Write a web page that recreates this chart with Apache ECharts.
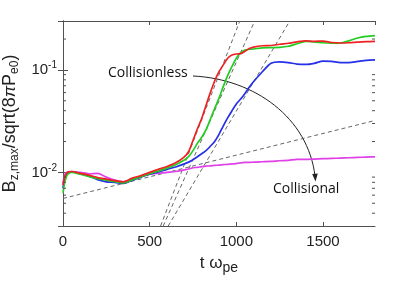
<!DOCTYPE html>
<html>
<head>
<meta charset="utf-8">
<script src="https://cdn.jsdelivr.net/npm/echarts@6/dist/echarts.min.js"></script>
<style>
html,body{margin:0;padding:0;background:#fff;}
#chart{width:415px;height:281px;}
</style>
</head>
<body>
<div id="chart"></div>
<script>
// time samples (t * omega_pe)
const T = [0, 10, 25, 50, 100, 150, 200, 250, 300, 350, 400, 450, 500, 550, 600, 650, 700, 725, 750, 775, 800, 825, 850, 875, 900, 925, 950, 975, 1000, 1025, 1050, 1075, 1100, 1150, 1200, 1250, 1300, 1350, 1400, 1450, 1500, 1550, 1600, 1650, 1700, 1750, 1800];

const redVals = [0.0075, 0.0090, 0.0100, 0.0102, 0.0098, 0.0094, 0.0089, 0.0086, 0.0083, 0.0081, 0.0088, 0.0093, 0.0100, 0.0107, 0.0114, 0.0124, 0.0142, 0.0160, 0.0205, 0.0265, 0.0335, 0.0450, 0.0600, 0.0780, 0.0960, 0.1120, 0.1300, 0.1400, 0.1430, 0.1440, 0.1520, 0.1620, 0.1670, 0.1720, 0.1730, 0.1780, 0.1820, 0.1880, 0.1920, 0.1900, 0.1910, 0.1850, 0.1830, 0.1840, 0.1870, 0.1890, 0.1900];

const greenVals = [0.0063, 0.0080, 0.0095, 0.0100, 0.0096, 0.0091, 0.0087, 0.0084, 0.0081, 0.0079, 0.0085, 0.0091, 0.0097, 0.0103, 0.0110, 0.0119, 0.0132, 0.0143, 0.0163, 0.0192, 0.0220, 0.0260, 0.0330, 0.0420, 0.0530, 0.0690, 0.0880, 0.1080, 0.1300, 0.1470, 0.1560, 0.1590, 0.1600, 0.1640, 0.1650, 0.1660, 0.1700, 0.1800, 0.1900, 0.1880, 0.1840, 0.1820, 0.1830, 0.1920, 0.2050, 0.2120, 0.2160];

const blueVals = [0.0070, 0.0088, 0.0098, 0.0101, 0.0097, 0.0092, 0.0085, 0.0081, 0.0080, 0.0078, 0.0084, 0.0090, 0.0096, 0.0101, 0.0107, 0.0113, 0.0121, 0.0126, 0.0133, 0.0142, 0.0152, 0.0163, 0.0180, 0.0200, 0.0235, 0.0285, 0.0340, 0.0400, 0.0465, 0.0520, 0.0590, 0.0680, 0.0770, 0.0960, 0.1160, 0.1200, 0.1180, 0.1140, 0.1130, 0.1160, 0.1220, 0.1210, 0.1180, 0.1180, 0.1210, 0.1240, 0.1250];

const magentaVals = [0.0078, 0.0095, 0.0101, 0.0102, 0.0100, 0.0097, 0.0098, 0.0090, 0.0084, 0.0081, 0.0086, 0.0091, 0.0096, 0.0098, 0.0100, 0.0102, 0.0106, 0.0108, 0.0111, 0.0112, 0.0114, 0.0115, 0.0116, 0.0117, 0.0118, 0.0119, 0.0120, 0.0121, 0.0122, 0.0124, 0.0125, 0.0125, 0.0126, 0.0127, 0.0128, 0.0130, 0.0131, 0.0134, 0.0134, 0.0135, 0.0136, 0.0137, 0.0138, 0.0139, 0.0140, 0.0141, 0.0142];

// dashed guide lines (exponential fits)
const slowFitT = [0, 1800];
const slowFitV = [0.00557, 0.0321];
const fitV = [0.003, 0.3];
const redFitT = [563, 1020];
const greenFitT = [578, 1106];
const blueFitT = [607, 1308];

// axis ticks
const xTicks = [0, 500, 1000, 1500];
const yMinorTicks = [0.004, 0.005, 0.006, 0.007, 0.008, 0.009, 0.02, 0.03, 0.04, 0.05, 0.06, 0.07, 0.08, 0.09, 0.2];

const pairs = (ts, vs) => ts.map((t, i) => [t, vs[i]]);
const FONT = '"Liberation Sans", Arial, sans-serif';
const AX = '#505050';

const chart = echarts.init(document.getElementById('chart'), null, {renderer: 'canvas'});

function xAxisDef(pos, withLabels) {
  return {
    type: 'value', min: 0, max: 1800, interval: 500, position: pos,
    axisLine: {show: true, lineStyle: {color: AX, width: 1}},
    axisTick: {show: true, inside: true, length: 4, lineStyle: {color: AX}},
    axisLabel: {
      show: withLabels, fontFamily: FONT, fontSize: 15, color: '#222', margin: 8, showMaxLabel: false,
      formatter: function (v) { return xTicks.indexOf(v) >= 0 ? String(v) : ''; }
    },
    splitLine: {show: false}
  };
}
function yAxisDef(pos, withLabels) {
  return {
    type: 'log', logBase: 10, min: 0.003, max: 0.3, splitNumber: 2, position: pos,
    axisLine: {show: true, lineStyle: {color: AX, width: 1}},
    axisTick: {show: true, inside: true, length: 5, lineStyle: {color: AX}},
    axisLabel: {
      show: withLabels, showMinLabel: false, showMaxLabel: false, margin: 6,
      formatter: function (v) {
        const l = Math.log10(v);
        const e = Math.round(l);
        if (Math.abs(l - e) > 1e-6) return '';
        return '{b|10}{s|' + e + '}';
      },
      rich: {
        b: {fontFamily: FONT, fontSize: 15, color: '#222'},
        s: {fontFamily: FONT, fontSize: 10, color: '#222', verticalAlign: 'bottom', padding: [0, 0, 9, 0]}
      }
    },
    splitLine: {show: false},
    minorTick: {show: false}
  };
}

const xa0 = xAxisDef('bottom', true);
xa0.name = '{n|t }{g|ω}{sub|pe}';
xa0.nameLocation = 'middle';
xa0.nameGap = 26;
xa0.nameTextStyle = {
  rich: {
    n: {fontFamily: FONT, fontSize: 17, color: '#222'},
    g: {fontFamily: FONT, fontSize: 17, color: '#222'},
    sub: {fontFamily: FONT, fontSize: 14, color: '#222', verticalAlign: 'top', padding: [9, 0, 0, 0]}
  }
};
const xa1 = xAxisDef('top', false);

const ya0 = yAxisDef('left', true);
ya0.name = '{n|B}{sub|z,max}{n|/sqrt(8}{g|π}{n|P}{sub|e0}{n|)}';
ya0.nameLocation = 'middle';
ya0.nameRotate = 90;
ya0.nameGap = 34;
ya0.nameTextStyle = {
  rich: {
    n: {fontFamily: FONT, fontSize: 18, color: '#222'},
    g: {fontFamily: FONT, fontSize: 17, color: '#222', fontStyle: 'italic'},
    sub: {fontFamily: FONT, fontSize: 12, color: '#222', verticalAlign: 'top', padding: [9, 0, 0, 0]}
  }
};
const ya1 = yAxisDef('right', false);

function minorTickSeries() {
  return {
    type: 'custom', xAxisIndex: 0, yAxisIndex: 0, silent: true, z: 5,
    data: yMinorTicks.map(v => [0, v]),
    renderItem: function (params, api) {
      const v = api.value(1);
      const pl = api.coord([0, v]);
      const pr = api.coord([1800, v]);
      return {
        type: 'group',
        children: [
          {type: 'line', shape: {x1: pl[0], y1: pl[1], x2: pl[0] + 3, y2: pl[1]}, style: {stroke: AX, lineWidth: 1}},
          {type: 'line', shape: {x1: pr[0] - 3, y1: pr[1], x2: pr[0], y2: pr[1]}, style: {stroke: AX, lineWidth: 1}}
        ]
      };
    }
  };
}

function dashed(ts, vs) {
  return {
    type: 'line', data: pairs(ts, vs), showSymbol: false, silent: true, z: 1,
    lineStyle: {color: '#666', width: 1, type: [4, 3]}
  };
}
function curve(vs, color) {
  return {
    type: 'line', data: pairs(T, vs), showSymbol: false, smooth: 0.25, z: 3,
    lineStyle: {color: color, width: 1.7}
  };
}

const option = {
  animation: false,
  backgroundColor: '#fff',
  grid: {left: 63, right: 40, top: 21, bottom: 55, containLabel: false, outerBoundsMode: 'none'},
  xAxis: [xa0, xa1],
  yAxis: [ya0, ya1],
  series: [
    dashed(slowFitT, slowFitV),
    dashed(redFitT, fitV),
    dashed(greenFitT, fitV),
    dashed(blueFitT, fitV),
    curve(magentaVals, '#e040e8'),
    curve(blueVals, '#2630e6'),
    curve(greenVals, '#22cc22'),
    curve(redVals, '#ee2222'),
    minorTickSeries()
  ],
  graphic: [
    {type: 'text', x: 108, y: 73, style: {text: 'Collisionless', font: '14px "Open Sans"', fill: '#111', verticalAlign: 'middle'}},
    {type: 'text', x: 273, y: 189, style: {text: 'Collisional', font: '14px "Open Sans"', fill: '#111', verticalAlign: 'middle'}},
    {type: 'bezierCurve', shape: {x1: 193, y1: 76, cpx1: 255, cpy1: 79, cpx2: 308, cpy2: 118, x2: 315, y2: 176}, style: {stroke: '#222', lineWidth: 1, fill: null}},
    {type: 'polygon', shape: {points: [[312.2, 174], [317.8, 173.4], [315.5, 181.5]]}, style: {fill: '#222'}}
  ]
};
chart.setOption(option);
</script>
</body>
</html>
